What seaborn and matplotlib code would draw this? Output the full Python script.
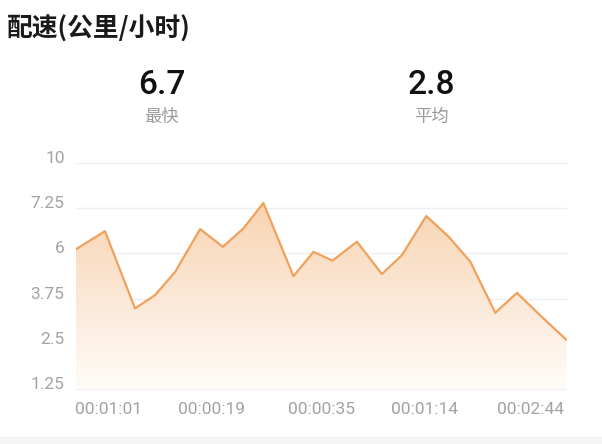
import numpy as np
import matplotlib
matplotlib.use("Agg")
import matplotlib.pyplot as plt
from matplotlib.patches import Rectangle
import seaborn as sns
import pandas as pd

# pace samples (x = sample position, y = speed)
sample_pos = [0.0, 1.43, 2.9, 3.88, 4.86, 6.08, 7.19, 8.2, 9.17, 10.64, 11.62, 12.55,
              13.74, 14.96, 15.94, 17.13, 18.22, 19.28, 20.5, 21.56, 22.58, 23.98]
speed = [5.11, 5.61, 3.48, 3.85, 4.49, 5.67, 5.18, 5.69, 6.39, 4.37, 5.04, 4.80,
         5.32, 4.43, 4.95, 6.03, 5.46, 4.77, 3.36, 3.91, 3.35, 2.61]

x_labels = ["00:01:01", "00:00:19", "00:00:35", "00:01:14", "00:02:44"]
x_label_pos = [1.59, 6.64, 12.0, 17.05, 22.2]

y_grid = [1.25, 2.5, 3.75, 5.0, 6.25, 7.5]
y_labels = ["1.25", "2.5", "3.75", "6", "7.25", "10"]

title = "配速(公里/小时)"
stats = [("6.7", "最快"), ("2.8", "平均")]

sns.set_theme(style="white")
plt.rcParams["font.family"] = ["Roboto", "Noto Sans CJK SC", "DejaVu Sans"]

W, H = 602, 444
fig = plt.figure(figsize=(W / 100, H / 100), dpi=100)

# axes area in pixels: x 75.7..566.5, y 160..392
left, right, top_px, bot_px = 75.7, 566.5, 160.0, 392.0
ax = fig.add_axes([left / W, 1 - bot_px / H, (right - left) / W, (bot_px - top_px) / H])
upp = 1.25 / 45.3
ax.set_ylim(1.25 - 2.7 * upp, 7.5 + 2.7 * upp)
ax.set_xlim(sample_pos[0], sample_pos[-1])

for g in y_grid:
    ax.axhline(g, color="#EFEFEF", lw=1.0, zorder=0)

df = pd.DataFrame({"pos": sample_pos, "speed": speed})

# gradient fill under the line
poly = ax.fill_between(df["pos"], df["speed"], 1.25, color="none", lw=0)
grad = np.linspace(0, 1, 256).reshape(-1, 1)
top_c = np.array([247, 208, 172]) / 255
bot_c = np.array([255, 252, 249]) / 255
img = top_c * (1 - grad[..., None]) + bot_c * grad[..., None]
img = img.reshape(256, 1, 3)
im = ax.imshow(img, extent=[sample_pos[0], sample_pos[-1], 1.25, 6.8],
               aspect="auto", origin="upper", zorder=1, interpolation="bilinear")
clip = poly.get_paths()[0]
im.set_clip_path(clip, transform=ax.transData)

sns.lineplot(data=df, x="pos", y="speed", ax=ax, color="#F0A15B", lw=1.6,
             zorder=3, solid_joinstyle="round", solid_capstyle="round")

ax.set_xlabel("")
ax.set_ylabel("")
ax.set_yticks(y_grid)
ax.set_yticklabels(y_labels)
ax.set_xticks(x_label_pos)
ax.set_xticklabels(x_labels)
ax.tick_params(axis="both", length=0, labelsize=12.5, labelcolor="#A3A3A3")
ax.tick_params(axis="y", pad=8)
ax.tick_params(axis="x", pad=7)
for lbl in ax.get_yticklabels():
    lbl.set_verticalalignment("baseline")
for s in ax.spines.values():
    s.set_visible(False)

# header texts
fig.text(7 / W, 1 - 29 / H, title, family=["Noto Sans CJK SC", "DejaVu Sans"],
         fontsize=18.5, fontweight="bold", color="#1A1A1A", va="center", ha="left")
for (val, name), cx in zip(stats, [162, 431]):
    fig.text(cx / W, 1 - 85 / H, val, fontsize=24, fontweight="medium",
             color="#111111", ha="center", va="center")
    fig.text(cx / W, 1 - 117 / H, name, family=["Noto Sans CJK SC", "DejaVu Sans"],
             fontsize=12.5, color="#9A9A9A", ha="center", va="center")

# light strip at the very bottom
fig.patches.append(Rectangle((0, 0), 1, 7 / H, transform=fig.transFigure,
                             color="#F5F5F5", zorder=0))

fig.savefig("out.png", dpi=100)
